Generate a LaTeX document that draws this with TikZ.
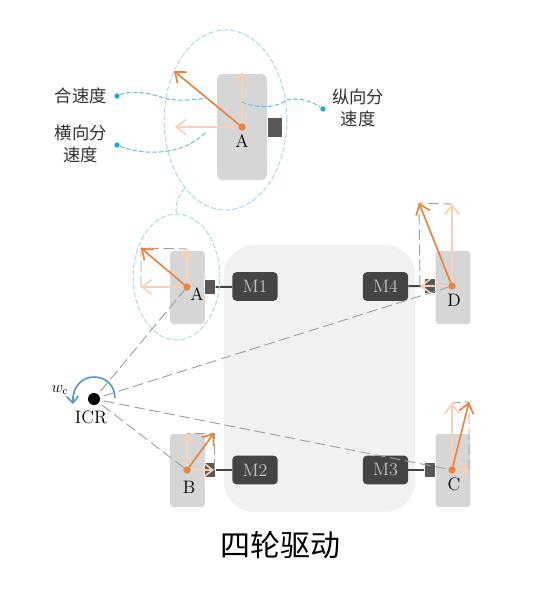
\documentclass[tikz,border=0pt]{standalone}
\usepackage{fontspec}
\newfontfamily\cjk{Noto Sans CJK SC}
\usetikzlibrary{arrows.meta,shapes.geometric}
\definecolor{wheelgray}{RGB}{214,214,214}
\definecolor{bodygray}{RGB}{241,241,241}
\definecolor{motorgray}{RGB}{68,68,68}
\definecolor{stubgray}{RGB}{88,88,88}
\definecolor{velorange}{RGB}{238,130,60}
\definecolor{partorange}{RGB}{249,208,180}
\definecolor{ringblue}{RGB}{165,216,236}
\definecolor{callblue}{RGB}{105,195,225}
\definecolor{dotblue}{RGB}{25,170,225}
\definecolor{spinblue}{RGB}{85,150,210}
\definecolor{guidegray}{RGB}{160,160,160}
\begin{document}
\begin{tikzpicture}[x=0.75pt,y=-0.75pt,
        wheel/.style={fill=wheelgray,rounded corners=2.5pt,inner sep=0pt,
            minimum width=26pt,minimum height=55pt},
        bigwheel/.style={wheel,minimum width=37.5pt,minimum height=79.5pt,rounded corners=4pt},
        stub/.style={fill=stubgray,draw=white,line width=0.3pt,inner sep=0pt,
            minimum width=8pt,minimum height=11pt},
        motor/.style={fill=motorgray,text=white!78!black,rounded corners=3pt,inner sep=0pt,
            minimum width=34pt,minimum height=21.5pt,font=\fontsize{13.5}{13.5}\selectfont},
        shaft/.style={draw=motorgray,line width=1.5pt},
        hub/.style={circle,fill=velorange,minimum size=5.5pt,inner sep=0pt},
        vel/.style={-{Straight Barb[length=7pt,width=11pt]},draw=velorange,line width=1.25pt},
        part/.style={-{Straight Barb[length=7pt,width=11pt]},draw=partorange,line width=1.25pt},
        guide/.style={draw=guidegray,line width=0.7pt,dash pattern=on 8pt off 3.5pt},
        ring/.style={draw=ringblue,line width=0.7pt,dash pattern=on 4pt off 1.5pt},
        callout/.style={draw=callblue,line width=0.8pt,dash pattern=on 3.5pt off 1.5pt},
        calldot/.style={circle,fill=dotblue,minimum size=4pt,inner sep=0pt},
        lab/.style={font=\fontsize{13.5}{13.5}\selectfont,inner sep=0pt},
        cn/.style={text=black!80,font=\cjk\fontsize{13}{16.5}\selectfont,inner sep=0pt,align=center}]
    \useasboundingbox (0,0) rectangle (549,597);

    \fill[bodygray] (224,275) arc[start angle=180,end angle=90,radius=22.5pt] -- (385,245)
        arc[start angle=90,end angle=0,radius=22.5pt] -- (415,482)
        arc[start angle=0,end angle=-90,radius=22.5pt] -- (254,512)
        arc[start angle=-90,end angle=-180,radius=22.5pt] -- cycle;

    \node[bigwheel] (wheelTop) at (242,127) {};
    \node[stub,minimum width=11pt,minimum height=15pt] (stubTop) at (275,127) {};
    \node[wheel] (wheelA) at (187.5,287.5) {};
    \node[wheel] (wheelB) at (187.5,470.5) {};
    \node[wheel] (wheelC) at (453,470.5) {};
    \node[wheel] (wheelD) at (453,287.5) {};

    \node[motor] (M1) at (255,286.5) {M1};
    \node[motor] (M2) at (255,470) {M2};
    \node[motor] (M3) at (385.5,470) {M3};
    \node[motor] (M4) at (385.5,286.5) {M4};
    \node[stub] (stubA) at (210,287) {};
    \node[stub] (stubB) at (210,470) {};
    \node[stub] (stubC) at (430,470) {};
    \node[stub] (stubD) at (430,286) {};
    \draw[shaft] (stubA) -- (M1);
    \draw[shaft] (stubB) -- (M2);
    \draw[shaft] (stubC) -- (M3);
    \draw[shaft] (stubD) -- (M4);

    \node[hub] (hubTop) at (242,127) {};
    \node[hub] (hubA) at (187,287) {};
    \node[hub] (hubB) at (187,470) {};
    \node[hub] (hubC) at (452,470) {};
    \node[hub] (hubD) at (452,286) {};

    \node[ellipse,ring,draw,minimum width=92pt,minimum height=135pt,inner sep=0pt] (ringTop) at (225.5,120) {};
    \node[ellipse,ring,draw,minimum width=65pt,minimum height=94.5pt,inner sep=0pt] (ringA) at (176.5,277) {};
    \draw[ring] (ringTop.239) .. controls (178,196) and (175,205) .. (ringA.north);

    \node[circle,fill=black,minimum size=9pt,inner sep=0pt] (ICR) at (94,399) {};
    \draw[guide,shorten <=3pt] (ICR) -- (hubA);
    \draw[guide,shorten <=3pt] (ICR) -- (hubB);
    \draw[guide,shorten <=3pt] (ICR) -- (hubC);
    \draw[guide,shorten <=3pt] (ICR) -- (hubD);
    \draw[-{Straight Barb[length=5pt,width=9pt]},draw=spinblue,line width=1.2pt]
        (115,398) .. controls (115,386) and (106,377) .. (94,377)
        .. controls (82,377) and (72,387) .. (73,404);
    \node[lab] (labICR) at (91,417) {ICR};
    \node[lab,font=\fontsize{12}{12}\selectfont] (labW) at (60,390) {$w_{\mathrm{c}}$};

    \coordinate (topV) at (242,72);
    \coordinate (topH) at (175,127);
    \coordinate (topR) at (174,71);
    \draw[part] (hubTop) -- (topV);
    \draw[part] (hubTop) -- (topH);
    \draw[vel] (hubTop) -- (topR);

    \coordinate (aV) at (187,249);
    \coordinate (aH) at (141,287);
    \coordinate (aR) at (141,248);
    \draw[guide] (aH) -- (aR) -- (aV);
    \draw[part] (hubA) -- (aV);
    \draw[part] (hubA) -- (aH);
    \draw[vel] (hubA) -- (aR);

    \coordinate (bV) at (187,433);
    \coordinate (bH) at (214,470);
    \coordinate (bR) at (214,433);
    \draw[guide] (bH) -- (bR) -- (bV);
    \draw[part] (hubB) -- (bV);
    \draw[part] (hubB) -- (bH);
    \draw[vel] (hubB) -- (bR);

    \coordinate (cV) at (452,403);
    \coordinate (cH) at (469,470);
    \coordinate (cR) at (469,402);
    \draw[guide] (cH) -- (cR) -- (cV);
    \draw[part] (hubC) -- (cV);
    \draw[part] (hubC) -- (cH);
    \draw[vel] (hubC) -- (cR);

    \coordinate (dV) at (452,204);
    \coordinate (dH) at (420,286);
    \coordinate (dR) at (419,203);
    \draw[guide] (dH) -- (dR) -- (dV);
    \draw[part] (hubD) -- (dV);
    \draw[part] (hubD) -- (dH);
    \draw[vel] (hubD) -- (dR);

    \node[lab] (labTop) at (242,141) {A};
    \node[lab] (labA) at (197,294) {A};
    \node[lab] (labB) at (189,487) {B};
    \node[lab] (labC) at (454,484) {C};
    \node[lab] (labD) at (454,300) {D};

    \node[cn] (txtHe) at (81,96) {合速度};
    \node[cn] (txtHeng) at (81,144) {横向分\\速度};
    \node[cn] (txtZong) at (358,108) {纵向分\\速度};
    \node[calldot] (dotHe) at (117,96) {};
    \node[calldot] (dotHeng) at (117,145) {};
    \node[calldot] (dotZong) at (323,109) {};
    \coordinate (endHe) at (207,98);
    \coordinate (endHeng) at (207,131);
    \coordinate (endZong) at (242,102);
    \draw[callout] (dotHe) .. controls (128,91) and (145,91) .. (167,99)
        .. controls (178,101) and (195,100) .. (endHe);
    \draw[callout] (dotHeng) .. controls (135,153) and (180,160) .. (endHeng);
    \draw[callout] (endZong) .. controls (252,107) and (272,110) .. (287,100)
        .. controls (297,97) and (312,101) .. (dotZong);

    \node[inner sep=0pt,font=\cjk\fontsize{22.5}{22.5}\selectfont] (title) at (280,545) {四轮驱动};
\end{tikzpicture}
\end{document}
